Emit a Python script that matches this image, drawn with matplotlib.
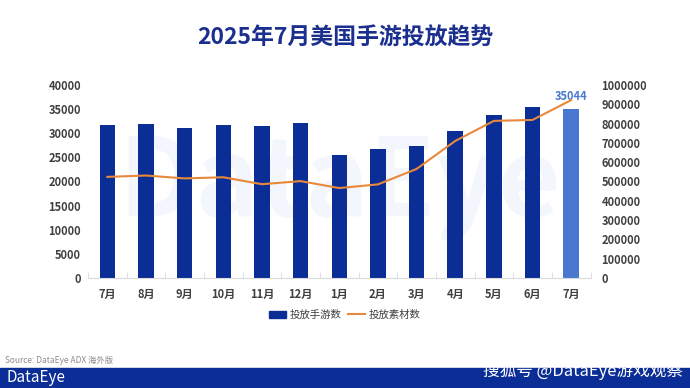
import matplotlib.pyplot as plt
import numpy as np
from matplotlib.patches import Rectangle
from matplotlib.lines import Line2D
from matplotlib.ticker import FormatStrFormatter

plt.rcParams['font.family'] = ['Noto Sans CJK SC', 'DejaVu Sans']

months = ["7月", "8月", "9月", "10月", "11月", "12月", "1月", "2月", "3月", "4月", "5月", "6月", "7月"]
games = [31800, 31900, 31000, 31700, 31600, 32050, 25400, 26800, 27350, 30400, 33700, 35400, 35044]
creatives = [524000, 531000, 516000, 522000, 486000, 502000, 466000, 485000, 565000, 710000, 814000, 819000, 922000]

dark_blue = "#0a2d96"
light_blue = "#4a78d0"
orange = "#e8883a"
grey = "#404040"

fig = plt.figure(figsize=(6.9, 3.88), dpi=100)
fig.patch.set_facecolor("white")

ax = fig.add_axes([88 / 690, 1 - 278 / 388, 502.5 / 690, 193 / 388])
ax.patch.set_alpha(0)

# faint watermark behind the bars
ax.text(0.5, 0.48, "DataEye", transform=ax.transAxes, fontsize=78, color="#f3f6fc",
        ha="center", va="center", fontweight="bold", zorder=0)

x = np.arange(len(months))
colors = [dark_blue] * (len(months) - 1) + [light_blue]
ax.bar(x, games, width=0.4, color=colors, zorder=2)
ax.set_ylim(0, 40000)
ax.set_yticks(np.arange(0, 40001, 5000))
ax.set_xlim(-0.5, len(months) - 0.5)
ax.set_xticks(x)
ax.set_xticklabels(months)
ax.set_xticks(np.arange(-0.5, len(months), 1), minor=True)
ax.tick_params(axis="x", which="major", length=0, pad=7)
ax.tick_params(axis="x", which="minor", length=4, color="#d9d9d9", direction="in")
ax.tick_params(axis="y", length=0, pad=5)
for s in ["top", "right", "left"]:
    ax.spines[s].set_visible(False)
ax.spines["bottom"].set_color("#d9d9d9")
for lab in ax.get_xticklabels() + ax.get_yticklabels():
    lab.set_fontsize(8)
    lab.set_fontweight("bold")
    lab.set_color(grey)

ax.annotate(str(games[-1]), (x[-1], games[-1]), xytext=(0, 4), textcoords="offset points",
            ha="center", va="bottom", fontsize=8, fontweight="bold", color=light_blue, zorder=5)

ax2 = ax.twinx()
ax2.plot(x, creatives, color=orange, lw=1.5, zorder=3)
ax2.set_ylim(0, 1000000)
ax2.set_yticks(np.arange(0, 1000001, 100000))
ax2.yaxis.set_major_formatter(FormatStrFormatter("%d"))
ax2.tick_params(axis="y", length=0, pad=8)
for s in ["top", "right", "left", "bottom"]:
    ax2.spines[s].set_visible(False)
for lab in ax2.get_yticklabels():
    lab.set_fontsize(8)
    lab.set_fontweight("bold")
    lab.set_color(grey)

handles = [Rectangle((0, 0), 1, 1, color=dark_blue), Line2D([0], [0], color=orange, lw=1.5)]
fig.legend(handles, ["投放手游数", "投放素材数"], loc="center", bbox_to_anchor=(0.5, 1 - 315 / 388),
           ncol=2, frameon=False, fontsize=7.5, handlelength=1.6, handleheight=0.7,
           columnspacing=0.6, handletextpad=0.4, labelcolor=grey)

fig.text(0.5, 1 - 38 / 388, "2025年7月美国手游投放趋势", ha="center", va="center",
         fontsize=16.5, fontweight="bold", color="#1b2f8f")

fig.text(5 / 690, 1 - 360 / 388, "Source: DataEye ADX 海外版", fontsize=6, color="#8c8c8c", va="center")

fig.patches.append(Rectangle((0, 0), 1, 20 / 388, transform=fig.transFigure, color="#0a2d96", zorder=1))
fig.text(6 / 690, 10 / 388, "DataEye", fontsize=11, color="white", va="center", zorder=2)
fig.text(683 / 690, 17 / 388, "搜狐号 @DataEye游戏观察", fontsize=12, color="white", ha="right",
         va="center", zorder=2)

fig.savefig("out.png", dpi=100)
